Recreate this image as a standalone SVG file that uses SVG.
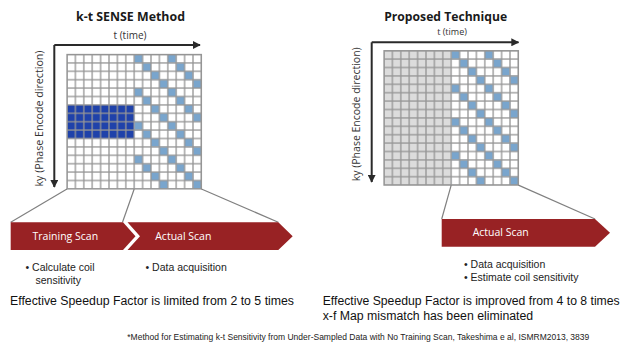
<svg xmlns="http://www.w3.org/2000/svg" width="625" height="347" viewBox="0 0 625 347">
<style>
.title{font-family:"Open Sans","Liberation Sans",sans-serif;font-weight:bold;font-size:12.4px;fill:#1a1a1a;text-anchor:middle}
.axl{font-family:"Open Sans","Liberation Sans",sans-serif;font-size:10px;fill:#333;text-anchor:middle}
.band{font-family:"Open Sans","Liberation Sans",sans-serif;font-size:10.5px;fill:#fff;text-anchor:middle}
.body{font-family:"Liberation Sans",Arial,sans-serif;font-size:10.5px;fill:#222}
.big{font-family:"Liberation Sans",Arial,sans-serif;font-size:12.3px;fill:#111}
.foot{font-family:"Liberation Sans",Arial,sans-serif;font-size:8.6px;fill:#222}
.axis{stroke:#2a2a2a;stroke-width:2;fill:none}
.funnel{stroke:#808080;stroke-width:1.2;fill:none}
.red{fill:#982224}
</style>
<defs>
<marker id="ah" viewBox="0 0 10 10" refX="9" refY="5" markerWidth="4" markerHeight="4" orient="auto" markerUnits="strokeWidth">
<path d="M0,0 L10,5 L0,10 Z" fill="#2a2a2a"/>
</marker>
<pattern id="cells" patternUnits="userSpaceOnUse" width="8.4" height="8.4">
<rect x="0" y="0" width="8.4" height="8.4" fill="none" stroke="#959595" stroke-width="1.3"/>
</pattern>
<pattern id="diag" patternUnits="userSpaceOnUse" width="33.6" height="33.6">
<rect x="0" y="0" width="8.4" height="8.4" fill="#79a5cd"/>
<rect x="8.4" y="8.4" width="8.4" height="8.4" fill="#79a5cd"/>
<rect x="16.8" y="16.8" width="8.4" height="8.4" fill="#79a5cd"/>
<rect x="25.2" y="25.2" width="8.4" height="8.4" fill="#79a5cd"/>
</pattern>
</defs>
<rect width="625" height="347" fill="#fff"/>

<g id="left-panel">
<text class="title" x="130.5" y="21" textLength="109" lengthAdjust="spacingAndGlyphs">k-t SENSE Method</text>
<text class="axl" x="130" y="39">t (time)</text>
<text class="axl" transform="translate(43,118.5) rotate(-90)" textLength="136" lengthAdjust="spacingAndGlyphs">ky (Phase Encode direction)</text>
<path class="axis" d="M54.3,45 H200" marker-end="url(#ah)"/>
<path class="axis" d="M54.3,45 V187" marker-end="url(#ah)"/>
<g id="left-grid" transform="translate(67,54.5)">
<rect x="0" y="0" width="134.4" height="134.4" fill="#fff"/>
<rect x="0" y="50.4" width="67.2" height="33.6" fill="#1f42aa"/>
<rect x="67.2" y="0" width="67.2" height="134.4" fill="url(#diag)"/>
<rect x="0" y="0" width="134.4" height="134.4" fill="url(#cells)"/>
<rect x="0" y="0" width="134.4" height="134.4" fill="none" stroke="#959595" stroke-width="1.3"/>
</g>
</g>

<g id="right-panel">
<text class="title" x="445.7" y="21" textLength="123" lengthAdjust="spacingAndGlyphs">Proposed Technique</text>
<text class="axl" x="452" y="35" style="font-size:9px">t (time)</text>
<text class="axl" transform="translate(360,114.3) rotate(-90)" textLength="134" lengthAdjust="spacingAndGlyphs">ky (Phase Encode direction)</text>
<path class="axis" d="M371.7,42.3 H518.5" marker-end="url(#ah)"/>
<path class="axis" d="M371.7,42.3 V182" marker-end="url(#ah)"/>
<g id="right-grid" transform="translate(384,50.7)">
<rect x="0" y="0" width="134.4" height="134.4" fill="#fff"/>
<rect x="0" y="0" width="67.2" height="134.4" fill="#dcdcdc"/>
<rect x="67.2" y="0" width="67.2" height="134.4" fill="url(#diag)"/>
<rect x="0" y="0" width="134.4" height="134.4" fill="url(#cells)"/>
<rect x="0" y="0" width="134.4" height="134.4" fill="none" stroke="#959595" stroke-width="1.3"/>
</g>
</g>

<g id="connectors">
<path class="funnel" d="M67,189 L10.7,222.3"/>
<path class="funnel" d="M134.2,189 L122.5,222.3"/>
<path class="funnel" d="M201.4,189 L278.3,222.3"/>
<path class="funnel" d="M451.2,185.1 L441.7,219"/>
<path class="funnel" d="M518.4,185.1 L595,219"/>
</g>

<g id="training-scan">
<polygon class="red" points="10.7,222.3 123,222.3 135.5,236.2 123,250 10.7,250"/>
<text class="band" x="65.3" y="239.5">Training Scan</text>
</g>
<g id="actual-scan-left">
<polygon class="red" points="127.5,222.3 278.3,222.3 292.7,236.2 278.3,250 127.5,250 140,236.2"/>
<text class="band" x="183.3" y="239.5">Actual Scan</text>
</g>
<g id="actual-scan-right">
<polygon class="red" points="441.7,219 595,219 610,232.8 595,246.7 441.7,246.7"/>
<text class="band" x="500.7" y="236">Actual Scan</text>
</g>

<g id="left-notes">
<text class="body" x="25.5" y="271">• Calculate coil</text>
<text class="body" x="35.5" y="284.3">sensitivity</text>
<text class="body" x="145.5" y="271">• Data acquisition</text>
<text class="big" x="10" y="305" textLength="284" lengthAdjust="spacingAndGlyphs">Effective Speedup Factor is limited from 2 to 5 times</text>
</g>
<g id="right-notes">
<text class="body" x="464" y="267.5">• Data acquisition</text>
<text class="body" x="464" y="281">• Estimate coil sensitivity</text>
<text class="big" x="322.7" y="305" textLength="297" lengthAdjust="spacingAndGlyphs">Effective Speedup Factor is improved from 4 to 8 times</text>
<text class="big" x="322.7" y="320">x-f Map mismatch has been eliminated</text>
</g>
<text class="foot" x="127.3" y="340" textLength="462" lengthAdjust="spacingAndGlyphs">*Method for Estimating k-t Sensitivity from Under-Sampled Data with No Training Scan, Takeshima e al, ISMRM2013, 3839</text>
</svg>
